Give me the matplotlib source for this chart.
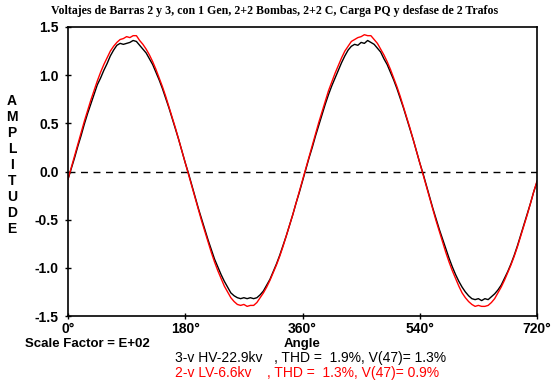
import numpy as np
import matplotlib
matplotlib.use("Agg")
import matplotlib.pyplot as plt

# Angle samples (degrees), 5-degree steps from 0 to 720
angle = np.arange(0, 725, 5)

hv_22_9kv = [
    -0.08, 0.03, 0.14, 0.26, 0.37, 0.49, 0.60, 0.70, 0.80, 0.90,
    0.97, 1.05, 1.12, 1.20, 1.26, 1.31, 1.33, 1.32, 1.33, 1.34,
    1.36, 1.35, 1.31, 1.27, 1.23, 1.17, 1.11, 1.03, 0.95, 0.86,
    0.76, 0.66, 0.55, 0.44, 0.33, 0.21, 0.09,
    -0.02, -0.14, -0.26, -0.38, -0.49, -0.60, -0.71, -0.81, -0.91, -0.99,
    -1.07, -1.14, -1.20, -1.26, -1.29, -1.31, -1.32, -1.31, -1.32, -1.31,
    -1.32, -1.31, -1.28, -1.24, -1.18, -1.12, -1.04, -0.96, -0.87, -0.77,
    -0.67, -0.56, -0.45, -0.33, -0.22, -0.10,
    0.02, 0.14, 0.25, 0.37, 0.48, 0.59, 0.70, 0.80, 0.89, 0.97,
    1.05, 1.13, 1.20, 1.26, 1.30, 1.32, 1.31, 1.34, 1.33, 1.36,
    1.34, 1.32, 1.28, 1.24, 1.17, 1.11, 1.03, 0.95, 0.86, 0.76,
    0.66, 0.55, 0.44, 0.33, 0.21, 0.09,
    -0.02, -0.14, -0.26, -0.38, -0.49, -0.60, -0.70, -0.80, -0.90, -0.99,
    -1.07, -1.14, -1.20, -1.25, -1.29, -1.32, -1.33, -1.32, -1.34, -1.32,
    -1.33, -1.30, -1.27, -1.23, -1.18, -1.11, -1.04, -0.96, -0.87, -0.77,
    -0.66, -0.55, -0.44, -0.33, -0.21, -0.11,
]

lv_6_6kv = [
    -0.08, 0.04, 0.16, 0.28, 0.40, 0.52, 0.63, 0.74, 0.84, 0.94,
    1.03, 1.11, 1.18, 1.25, 1.30, 1.34, 1.37, 1.38, 1.40, 1.39,
    1.41, 1.41, 1.36, 1.32, 1.27, 1.21, 1.14, 1.06, 0.97, 0.88,
    0.78, 0.67, 0.56, 0.45, 0.33, 0.21, 0.09,
    -0.03, -0.15, -0.27, -0.39, -0.51, -0.62, -0.73, -0.84, -0.94, -1.03,
    -1.11, -1.19, -1.25, -1.31, -1.35, -1.38, -1.39, -1.38, -1.40, -1.39,
    -1.39, -1.36, -1.31, -1.26, -1.20, -1.13, -1.05, -0.97, -0.88, -0.78,
    -0.67, -0.56, -0.45, -0.33, -0.21, -0.09,
    0.03, 0.15, 0.27, 0.39, 0.51, 0.62, 0.73, 0.84, 0.93, 1.02,
    1.10, 1.18, 1.25, 1.30, 1.35, 1.37, 1.39, 1.40, 1.42, 1.41,
    1.41, 1.37, 1.33, 1.27, 1.21, 1.14, 1.06, 0.97, 0.88, 0.78,
    0.67, 0.56, 0.45, 0.33, 0.21, 0.09,
    -0.03, -0.15, -0.27, -0.39, -0.51, -0.62, -0.73, -0.84, -0.94, -1.03,
    -1.11, -1.19, -1.26, -1.31, -1.35, -1.38, -1.40, -1.39, -1.40, -1.40,
    -1.39, -1.36, -1.32, -1.26, -1.20, -1.13, -1.05, -0.97, -0.88, -0.78,
    -0.67, -0.56, -0.45, -0.33, -0.21, -0.10,
]

x_ticks = [0, 180, 360, 540, 720]
x_tick_labels = ["0°", "180°", "360°", "540°", "720°"]
y_ticks = [-1.5, -1.0, -0.5, 0.0, 0.5, 1.0, 1.5]
y_tick_labels = ["-1.5", "-1.0", "-0.5", "0.0", "0.5", "1.0", "1.5"]

title = "Voltajes de Barras 2 y 3, con 1 Gen, 2+2 Bombas, 2+2 C, Carga PQ y desfase de 2 Trafos"
legend_hv = "3-v HV-22.9kv   , THD =  1.9%, V(47)= 1.3%"
legend_lv = "2-v LV-6.6kv    , THD =  1.3%, V(47)= 0.9%"

W, H = 554, 382
fig = plt.figure(figsize=(W / 100, H / 100), dpi=100)
fig.patch.set_facecolor("white")
ax = fig.add_axes([68 / W, 1 - 316 / H, (537 - 68) / W, (316 - 27) / H])

ax.axhline(0, color="black", lw=1.0, ls=(0, (5, 4)))
ax.plot(angle, hv_22_9kv, color="black", lw=1.0)
ax.plot(angle, lv_6_6kv, color="#ff0000", lw=1.0)

ax.set_xlim(0, 720)
ax.set_ylim(-1.5, 1.5)
ax.set_xticks(x_ticks)
ax.set_xticklabels(x_tick_labels)
ax.set_yticks(y_ticks)
ax.set_yticklabels(y_tick_labels)
for s in ax.spines.values():
    s.set_linewidth(1.2)
    s.set_color("black")
ax.tick_params(direction="inout", length=5, width=1.0, labelsize=10)
ax.tick_params(axis="x", pad=1.5)
ax.tick_params(axis="y", pad=4)
for lab in ax.get_xticklabels() + ax.get_yticklabels():
    lab.set_fontweight("bold")
    lab.set_family("Liberation Sans")

fig.text(275 / W, 1 - 11 / H, title, ha="center", va="center",
         fontsize=8.6, fontweight="bold", family="Liberation Serif")

ylabel = "AMPLITUDE"
for i, ch in enumerate(ylabel):
    fig.text(12 / W, 1 - (101 + i * 16) / H, ch, ha="center", va="center",
             fontsize=10, fontweight="bold", family="Liberation Sans")

fig.text(25 / W, 1 - 344 / H, "Scale Factor = E+02", ha="left", va="center",
         fontsize=9.5, fontweight="bold", family="Liberation Sans")
fig.text(302 / W, 1 - 344 / H, "Angle", ha="center", va="center",
         fontsize=9.5, fontweight="bold", family="Liberation Sans")
fig.text(175 / W, 1 - 358 / H, legend_hv, ha="left", va="center",
         fontsize=10, color="black", family="Liberation Sans")
fig.text(175 / W, 1 - 373 / H, legend_lv, ha="left", va="center",
         fontsize=10, color="#ff0000", family="Liberation Sans")

fig.savefig("out.png", dpi=100)
